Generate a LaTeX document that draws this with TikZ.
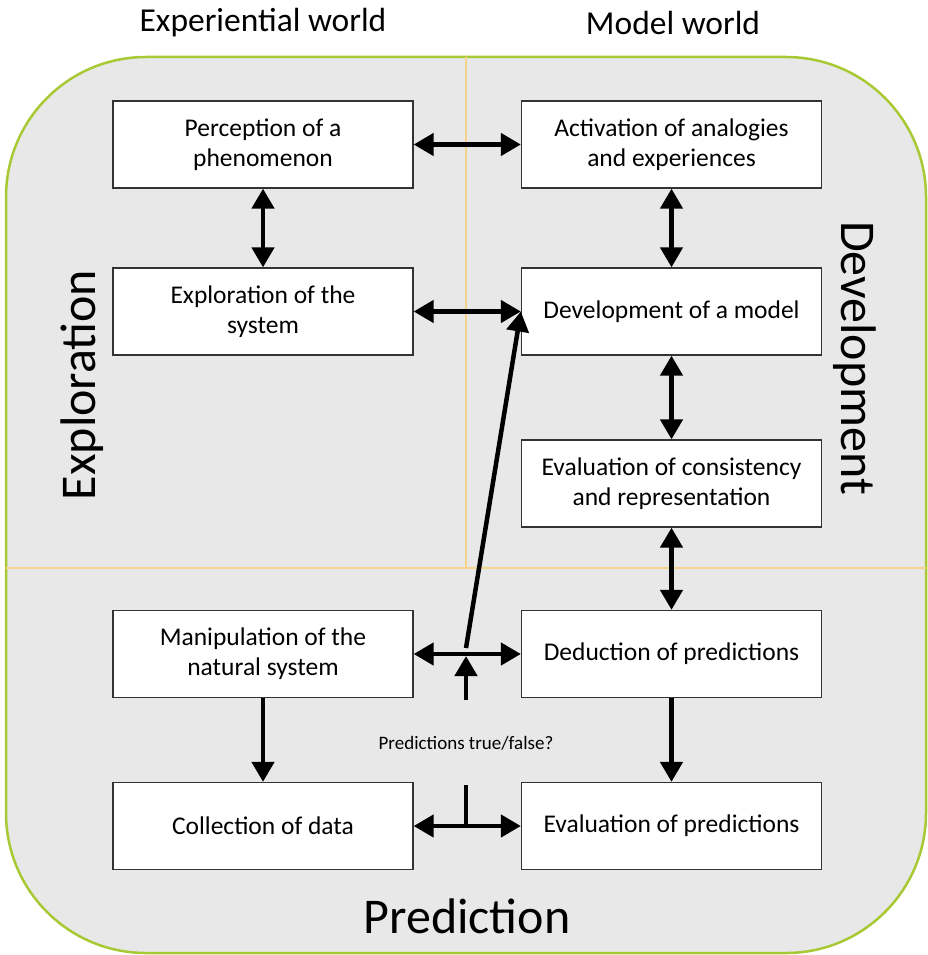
\documentclass[tikz,border=0pt]{standalone}
\usepackage{fontspec}
\setmainfont{Carlito}
\usetikzlibrary{arrows.meta}
\definecolor{bggray}{HTML}{E8E8E8}
\definecolor{limegreen}{HTML}{A9C934}
\definecolor{divorange}{HTML}{F3D48A}
\begin{document}
\begin{tikzpicture}[x=1pt,y=-1pt,
  box/.style={draw=black!80,line width=1.3pt,fill=white,minimum width=300pt,minimum height=87pt,
    align=center,inner sep=2pt,font=\fontsize{25.5}{30}\selectfont},
  tip/.tip={Triangle[length=20pt,width=22pt]},
  dbl/.style={line width=4.5pt,tip-tip},
  sgl/.style={line width=4.5pt,-tip},
  plain/.style={line width=4.5pt},
  title/.style={font=\fontsize{33.5}{38}\selectfont},
  big/.style={font=\fontsize{50}{56}\selectfont}]
\useasboundingbox (0,0) rectangle (927,955);
\draw[fill=bggray,draw=limegreen,line width=2.5pt,rounded corners=140pt] (6,57) rectangle (926,953);
\draw[divorange,line width=1.5pt] (466,57) -- (466,568);
\draw[divorange,line width=1.5pt] (6,568) -- (926,568);
\node[title] (tleft) at (263,23) {Experiential world};
\node[title] (tright) at (673,23) {Model world};
\node[big,rotate=90] (lexp) at (82,385) {Exploration};
\node[big,rotate=-90] (ldev) at (855,358) {Development};
\node[big] (lpred) at (467,916) {Prediction};
\node[box] (perc) at (263,144.5) {Perception of a\\phenomenon};
\node[box] (act) at (671.5,144.5) {Activation of analogies\\and experiences};
\node[box] (expl) at (263,311.5) {Exploration of the\\system};
\node[box] (dev) at (671.5,311.5) {Development of a model};
\node[box] (cons) at (671.5,483.5) {Evaluation of consistency\\and representation};
\node[box] (manip) at (263,654) {Manipulation of the\\natural system};
\node[box] (ded) at (671.5,654) {Deduction of predictions};
\node[box] (coll) at (263,826) {Collection of data};
\node[box] (evp) at (671.5,826) {Evaluation of predictions};
\node[font=\fontsize{19}{22}\selectfont] (q) at (466,743) {Predictions true/false?};
\draw[dbl] (perc) -- (act);
\draw[dbl] (perc) -- (expl);
\draw[dbl] (act) -- (dev);
\draw[dbl] (expl) -- (dev);
\draw[dbl] (dev) -- (cons);
\draw[dbl] (cons) -- (ded);
\draw[dbl] (manip) -- (ded);
\draw[sgl] (manip) -- (coll);
\draw[sgl] (ded) -- (evp);
\draw[dbl] (coll) -- (evp);
\coordinate (stemtop) at (466,785);
\coordinate (stembot) at (466,826);
\coordinate (upbot) at (466,700);
\coordinate (uptop) at (466,656);
\coordinate (diagbot) at (466,648);
\draw[plain] (stembot) -- (stemtop);
\draw[sgl] (upbot) -- (uptop);
\draw[sgl] (diagbot) -- (dev.west);
\end{tikzpicture}
\end{document}
